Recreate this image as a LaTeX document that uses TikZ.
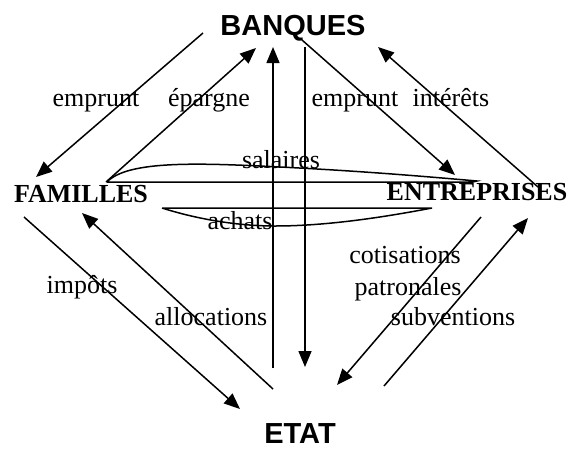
\documentclass[tikz,border=0pt]{standalone}
\usepackage{fontspec}
\setmainfont{Liberation Serif}
\newfontfamily\arialfont{Liberation Sans}
\usetikzlibrary{arrows.meta}

\tikzset{
  flux/.style={line width=1.5pt,-{Triangle[length=16pt,width=13pt]}},
  trait/.style={line width=1.5pt},
  lbl/.style={inner sep=0pt,anchor=base,font=\fontsize{26}{30}\selectfont},
  agent/.style={inner sep=0pt,anchor=base,font=\fontsize{26}{30}\selectfont\bfseries},
  pole/.style={inner sep=0pt,anchor=base,text depth=0pt,font=\fontsize{29}{32}\selectfont\arialfont\bfseries},
}

\begin{document}
\begin{tikzpicture}[x=1pt,y=-1pt]
  \useasboundingbox (0,0) rectangle (570,448);

  % the four agents
  \node (ban) [pole] at (293,35) {BANQUES};
  \node (fam) [agent] at (81,202) {FAMILLES};
  \node (ent) [agent] at (477,200) {ENTREPRISES};
  \node (eta) [pole] at (300,443) {ETAT};

  % labels of the flows
  \node (empf) [lbl] at (96,106) {emprunt};
  \node (epa) [lbl] at (209,106) {épargne};
  \node (empe) [lbl] at (355,106) {emprunt};
  \node (int) [lbl] at (451,106) {intérêts};
  \node (sal) [lbl] at (281,168) {salaires};
  \node (ach) [lbl] at (240,229) {achats};
  \node (imp) [lbl] at (82,293) {impôts};
  \node (all) [lbl] at (211,325) {allocations};
  \node (cot) [lbl] at (405,263) {cotisations};
  \node (pat) [lbl] at (408,295) {patronales};
  \node (sub) [lbl] at (453,325) {subventions};

  % ends of the arrows
  \path (203,33) coordinate (empfo) (36,177) coordinate (empfi);
  \path (106,182) coordinate (epao) (256,48) coordinate (epai);
  \path (273,368) coordinate (upo) (273,47) coordinate (upi);
  \path (305,47) coordinate (dno) (305,367) coordinate (dni);
  \path (302,40) coordinate (empeo) (455,175) coordinate (empei);
  \path (538,187) coordinate (into) (378,47) coordinate (inti);
  \path (24,217) coordinate (impo) (240,409) coordinate (impi);
  \path (273,389) coordinate (allo) (82,213) coordinate (alli);
  \path (481,217) coordinate (coto) (337,385) coordinate (coti);
  \path (384,386) coordinate (subo) (528,218) coordinate (subi);

  \draw[flux] (empfo) -- (empfi);
  \draw[flux] (epao) -- (epai);
  \draw[flux] (upo) -- (upi);
  \draw[flux] (dno) -- (dni);
  \draw[flux] (empeo) -- (empei);
  \draw[flux] (into) -- (inti);
  \draw[flux] (impo) -- (impi);
  \draw[flux] (allo) -- (alli);
  \draw[flux] (coto) -- (coti);
  \draw[flux] (subo) -- (subi);

  % salaires and achats
  \path (107,182) coordinate (salw) (477,181) coordinate (sale);
  \draw[trait] (salw) .. controls (128,160) and (200,163) .. (280,167)
    .. controls (360,171) and (420,176) .. (sale) -- (473,182) -- (salw);
  \path (162,208) coordinate (achw) (432,208) coordinate (ache);
  \draw[trait] (achw) -- (ache)
    .. controls (390,216) and (330,226) .. (275,226)
    .. controls (240,226) and (200,220) .. (achw);
\end{tikzpicture}
\end{document}
